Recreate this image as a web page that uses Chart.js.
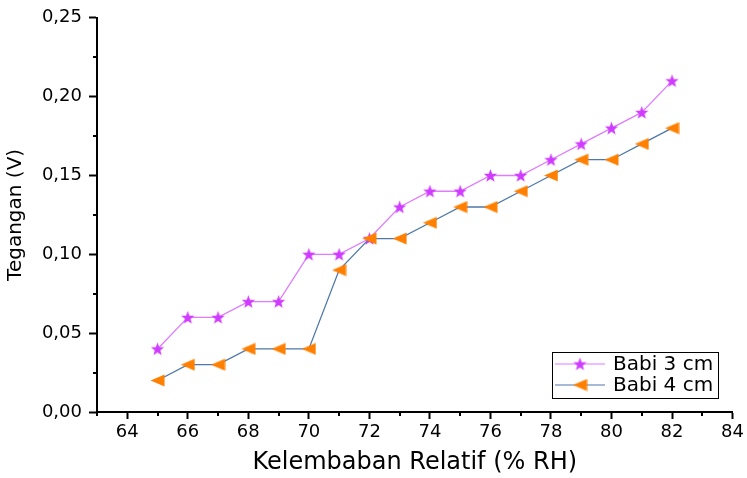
<!DOCTYPE html>
<html>
<head>
<meta charset="utf-8">
<title>Tegangan vs Kelembaban Relatif</title>
<script src="https://cdn.jsdelivr.net/npm/chart.js@4.4.1/dist/chart.umd.min.js"></script>
<style>
  html, body { margin: 0; padding: 0; background: #fff; }
  #wrap { width: 747px; height: 478px; }
</style>
</head>
<body>
<div id="wrap"><canvas id="chart" width="747" height="478"></canvas></div>
<script>
"use strict";

// data
const RH = [65, 66, 67, 68, 69, 70, 71, 72, 73, 74, 75, 76, 77, 78, 79, 80, 81, 82];
const BABI_3CM = [0.04, 0.06, 0.06, 0.07, 0.07, 0.10, 0.10, 0.11, 0.13, 0.14, 0.14, 0.15, 0.15, 0.16, 0.17, 0.18, 0.19, 0.21];
const BABI_4CM = [0.02, 0.03, 0.03, 0.04, 0.04, 0.04, 0.09, 0.11, 0.11, 0.12, 0.13, 0.13, 0.14, 0.15, 0.16, 0.16, 0.17, 0.18];

const X_TICKS = [64, 66, 68, 70, 72, 74, 76, 78, 80, 82, 84];
const X_MINOR = [63, 65, 67, 69, 71, 73, 75, 77, 79, 81, 83];
const Y_TICKS = [0, 0.05, 0.10, 0.15, 0.20, 0.25];
const Y_MINOR = [0.025, 0.075, 0.125, 0.175, 0.225];

const LABELS = ["Babi 3 cm", "Babi 4 cm"];

const FONT = "'DejaVu Sans', 'Liberation Sans', sans-serif";
Chart.defaults.font.family = FONT;
Chart.defaults.color = "#000";

// Origin-style markers: filled star and left-pointing triangle
function starMarker(color) {
  const c = document.createElement("canvas");
  c.width = 15; c.height = 15;
  const ctx = c.getContext("2d");
  ctx.fillStyle = color;
  ctx.beginPath();
  for (let i = 0; i < 10; i++) {
    const r = i % 2 === 0 ? 7 : 2.9;
    const a = -Math.PI / 2 + i * Math.PI / 5;
    const px = 7.5 + r * Math.cos(a), py = 8 + r * Math.sin(a);
    if (i === 0) ctx.moveTo(px, py); else ctx.lineTo(px, py);
  }
  ctx.closePath();
  ctx.fill();
  return c;
}

function leftTriangle(color) {
  const c = document.createElement("canvas");
  c.width = 15; c.height = 13;
  const ctx = c.getContext("2d");
  ctx.fillStyle = color;
  ctx.beginPath();
  ctx.moveTo(0.5, 6.5);
  ctx.lineTo(14.5, 0.5);
  ctx.lineTo(14.5, 12.5);
  ctx.closePath();
  ctx.fill();
  return c;
}

const STAR = starMarker("#cf3cff");
const TRI = leftTriangle("#ff8000");

const STYLES = [
  { line: "#e07cff", marker: STAR },
  { line: "#4f79a8", marker: TRI },
];

const toPoints = (ys) => RH.map((x, i) => ({ x, y: ys[i] }));
const fmtComma = (v) => Number(v).toFixed(2).replace(".", ",");

// minor ticks + boxed legend like the Origin figure
const originExtras = {
  id: "originExtras",
  afterDraw(chart) {
    const { ctx, chartArea, scales } = chart;
    ctx.save();
    ctx.strokeStyle = "#000";
    ctx.lineWidth = 2;
    X_MINOR.forEach((v) => {
      const px = Math.round(scales.x.getPixelForValue(v));
      ctx.beginPath();
      ctx.moveTo(px, chartArea.bottom);
      ctx.lineTo(px, chartArea.bottom + 4);
      ctx.stroke();
    });
    Y_MINOR.forEach((v) => {
      const py = Math.round(scales.y.getPixelForValue(v));
      ctx.beginPath();
      ctx.moveTo(chartArea.left, py);
      ctx.lineTo(chartArea.left - 4, py);
      ctx.stroke();
    });

    // legend box
    const bx = 552, by = 352, bw = 166, bh = 46;
    ctx.lineWidth = 1;
    ctx.strokeRect(bx + 0.5, by + 0.5, bw, bh);
    ctx.font = "20px " + FONT;
    ctx.textBaseline = "middle";
    ctx.fillStyle = "#000";
    LABELS.forEach((label, i) => {
      const cy = by + 12 + i * 21;
      ctx.strokeStyle = STYLES[i].line;
      ctx.lineWidth = 1.2;
      ctx.beginPath();
      ctx.moveTo(bx + 3, cy);
      ctx.lineTo(bx + 53, cy);
      ctx.stroke();
      const m = STYLES[i].marker;
      ctx.drawImage(m, bx + 28 - m.width / 2, cy - m.height / 2);
      ctx.fillText(label, bx + 61, cy + 1);
    });
    ctx.restore();
  },
};

new Chart(document.getElementById("chart"), {
  type: "line",
  data: {
    datasets: [
      {
        label: LABELS[0],
        data: toPoints(BABI_3CM),
        borderColor: STYLES[0].line,
        borderWidth: 1.3,
        pointStyle: STAR,
        pointRadius: 7,
        tension: 0,
        order: 1,
      },
      {
        label: LABELS[1],
        data: toPoints(BABI_4CM),
        borderColor: STYLES[1].line,
        borderWidth: 1.3,
        pointStyle: TRI,
        pointRadius: 7,
        tension: 0,
        order: 0,
      },
    ],
  },
  options: {
    responsive: false,
    animation: false,
    events: [],
    layout: { padding: { top: 15, right: 14, left: 0, bottom: 0 } },
    plugins: { legend: { display: false }, tooltip: { enabled: false } },
    scales: {
      x: {
        type: "linear",
        min: 63,
        max: 84,
        afterFit: (s) => { s.height = 66; },
        afterBuildTicks: (s) => { s.ticks = X_TICKS.map((value) => ({ value })); },
        grid: { drawOnChartArea: false, drawTicks: true, tickLength: 7, tickWidth: 2, tickColor: "#000" },
        border: { display: true, width: 2, color: "#000" },
        ticks: { font: { size: 18 }, padding: 3, maxRotation: 0 },
        title: { display: true, text: "Kelembaban Relatif (% RH)", font: { size: 24 }, padding: { bottom: 1, top: 0 } },
      },
      y: {
        type: "linear",
        min: 0,
        max: 0.25,
        afterFit: (s) => { s.width = 97; },
        afterBuildTicks: (s) => { s.ticks = Y_TICKS.map((value) => ({ value })); },
        grid: { drawOnChartArea: false, drawTicks: true, tickLength: 8, tickWidth: 2, tickColor: "#000" },
        border: { display: true, width: 2, color: "#000" },
        ticks: { font: { size: 18 }, padding: 7, callback: (v) => fmtComma(v) },
        title: { display: true, text: "Tegangan (V)", font: { size: 20 }, padding: { top: 4, bottom: 0 } },
      },
    },
  },
  plugins: [originExtras],
});
</script>
</body>
</html>
